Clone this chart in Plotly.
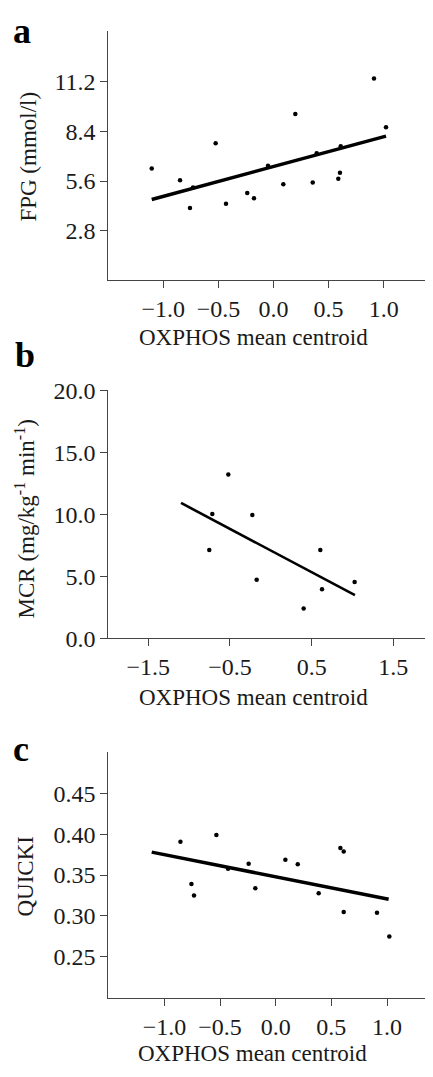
import plotly.graph_objects as go

PAGE_W, PAGE_H = 433, 1077
OFF = 8  # default body margin of the html page
W, H = PAGE_W - 2 * OFF, PAGE_H - 2 * OFF

# Panel a: FPG vs OXPHOS mean centroid
a_x = [-1.105, -0.848, -0.758, -0.730, -0.525, -0.431, -0.238, -0.177, -0.050, 0.089,
       0.198, 0.356, 0.392, 0.588, 0.603, 0.610, 0.912, 1.021]
a_y = [6.31, 5.64, 4.08, 5.24, 7.73, 4.32, 4.92, 4.63, 6.46, 5.42,
       9.37, 5.51, 7.16, 5.73, 6.06, 7.56, 11.37, 8.62]
a_fit_x = [-1.105, 1.021]
a_fit_y = [4.56, 8.13]

# Panel b: MCR vs OXPHOS mean centroid
b_x = [-0.753, -0.716, -0.520, -0.226, -0.173, 0.402, 0.606, 0.627, 1.026]
b_y = [7.13, 10.04, 13.23, 9.96, 4.74, 2.41, 7.13, 3.96, 4.56]
b_fit_x = [-1.099, 1.030]
b_fit_y = [10.93, 3.49]

# Panel c: QUICKI vs OXPHOS mean centroid
c_x = [-0.856, -0.757, -0.734, -0.533, -0.428, -0.243, -0.183, 0.087, 0.198, 0.386,
       0.581, 0.611, 0.611, 0.910, 1.021]
c_y = [0.3906, 0.339, 0.325, 0.399, 0.3577, 0.3637, 0.334, 0.3688, 0.3633, 0.3276,
       0.383, 0.3787, 0.3047, 0.3039, 0.275]
c_fit_x = [-1.114, 1.015]
c_fit_y = [0.378, 0.3205]

a_yticks = [2.8, 5.6, 8.4, 11.2]
b_yticks = [0.0, 5.0, 10.0, 15.0, 20.0]
c_yticks = [0.25, 0.30, 0.35, 0.40, 0.45]
ac_xticks = [-1.0, -0.5, 0.0, 0.5, 1.0]
b_xticks = [-1.5, -0.5, 0.5, 1.5]

xtitle = "OXPHOS mean centroid"
ytitles = ["FPG (mmol/l)", "MCR (mg/kg<sup>-1</sup> min<sup>-1</sup>)", "QUICKI"]
letters = ["a", "b", "c"]

FONT = "Liberation Serif, Times New Roman, serif"
INK = "#1a1a1a"

fig = go.Figure()

panels = [
    (a_x, a_y, a_fit_x, a_fit_y, "x", "y", 3.5),
    (b_x, b_y, b_fit_x, b_fit_y, "x2", "y2", 2.6),
    (c_x, c_y, c_fit_x, c_fit_y, "x3", "y3", 3.5),
]
for px, py, fx, fy, xa, ya, lw in panels:
    fig.add_trace(go.Scatter(x=fx, y=fy, mode="lines", xaxis=xa, yaxis=ya,
                             line=dict(color="black", width=lw), showlegend=False,
                             hoverinfo="skip"))
    fig.add_trace(go.Scatter(x=px, y=py, mode="markers", xaxis=xa, yaxis=ya,
                             marker=dict(color="black", size=4.5), showlegend=False))

def py_(p):  # page pixel (from top) -> paper y
    return (H - (p - OFF)) / H

def px_(p):  # page pixel (from left) -> paper x
    return (p - OFF) / W

axis_common = dict(showline=True, linecolor="#444", linewidth=1, ticks="outside",
                   ticklen=7, tickwidth=1, tickcolor="#444", showgrid=False,
                   zeroline=False, tickfont=dict(family=FONT, size=24, color=INK))

right_px = OFF + W  # right edge of the figure on the page
xdom = [px_(108.3), 1.0]
doms = [
    [py_(274), py_(18)],
    [py_(641), py_(386.7)],
    [py_(1009.3), py_(757.7)],
]

def xr(left_px, zero_px, unit_px):
    return [(left_px - zero_px) / unit_px, (right_px - zero_px) / unit_px]

fig.update_layout(
    width=W, height=H, margin=dict(l=0, r=0, t=0, b=0),
    paper_bgcolor="white", plot_bgcolor="white",
    xaxis=dict(domain=xdom, range=xr(108.3, 273.5, 110.2), tickvals=ac_xticks,
               tickformat=".1f", anchor="y", **axis_common),
    yaxis=dict(domain=doms[0], range=[0, 14.06], tickvals=a_yticks,
               tickformat=".1f", anchor="x", **axis_common),
    xaxis2=dict(domain=xdom, range=xr(108.3, 270.8, 81.7), tickvals=b_xticks,
                tickformat=".1f", anchor="y2", **axis_common),
    yaxis2=dict(domain=doms[1], range=[0, 20], tickvals=b_yticks,
                tickformat=".1f", anchor="x2", **axis_common),
    xaxis3=dict(domain=xdom, range=xr(108.3, 275.7, 111.3), tickvals=ac_xticks,
                tickformat=".1f", anchor="y3", **axis_common),
    yaxis3=dict(domain=doms[2], range=[0.2, 0.5], tickvals=c_yticks,
                tickformat=".2f", anchor="x3", **axis_common),
)

# axis titles and panel letters (page pixel positions)
xt_pos = [(253.7, 332), (253.7, 701), (252, 1066)]
yt_pos = [(28.5, 147.5), (25, 519), (26, 885)]
let_pos = [(11, 18), (13, 350), (11, 754)]
for i in range(3):
    fig.add_annotation(text=xtitle, x=px_(xt_pos[i][0]), y=py_(xt_pos[i][1]),
                       xref="paper", yref="paper", showarrow=False,
                       xanchor="center", yanchor="middle",
                       font=dict(family=FONT, size=23, color=INK))
    fig.add_annotation(text=ytitles[i], x=px_(yt_pos[i][0]), y=py_(yt_pos[i][1]),
                       xref="paper", yref="paper", showarrow=False, textangle=-90,
                       xanchor="center", yanchor="middle",
                       font=dict(family=FONT, size=23, color=INK))
    fig.add_annotation(text="<b>" + letters[i] + "</b>", x=px_(let_pos[i][0]),
                       y=py_(let_pos[i][1]), xref="paper", yref="paper",
                       showarrow=False, xanchor="left", yanchor="middle",
                       font=dict(family=FONT, size=36, color="black"))

fig.write_html("out.html")
